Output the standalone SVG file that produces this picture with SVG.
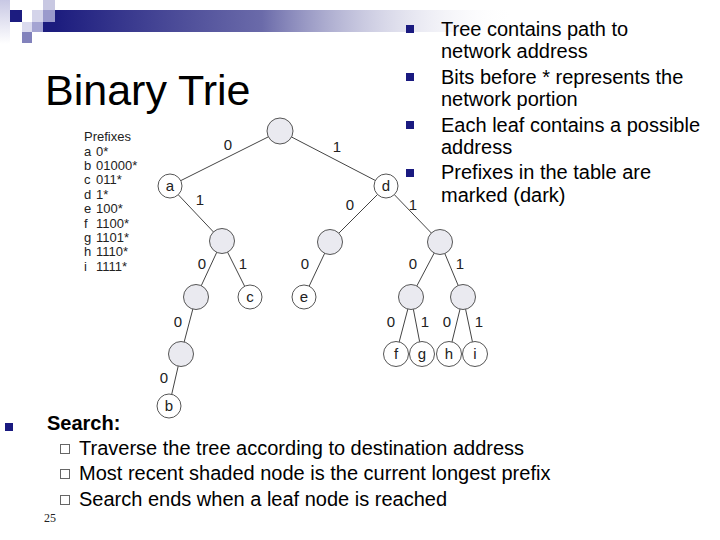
<svg xmlns="http://www.w3.org/2000/svg" width="720" height="540" viewBox="0 0 720 540">
<defs>
<linearGradient id="bar" x1="0" y1="0" x2="1" y2="0">
<stop offset="0" stop-color="#1c1c7e"/>
<stop offset="0.45" stop-color="#5a5aa0" stop-opacity="0.9"/>
<stop offset="1" stop-color="#ffffff" stop-opacity="0"/>
</linearGradient>
<linearGradient id="strip" x1="0" y1="0" x2="0" y2="1">
<stop offset="0" stop-color="#c8c8e4"/>
<stop offset="1" stop-color="#ffffff"/>
</linearGradient>
<style>
.t{font-family:"Liberation Sans",Arial,sans-serif;fill:#000}
.big{font-size:20px}
.sm{font-family:"Liberation Sans",Arial,sans-serif;font-size:13px;fill:#222}
.lbl{font-family:"Liberation Sans",Arial,sans-serif;font-size:15px;fill:#222;text-anchor:middle}
.g{fill:#eaeaf0;stroke:#555;stroke-width:1}
.w{fill:#fff;stroke:#555;stroke-width:1}
.edge{stroke:#444;stroke-width:1;fill:none}
.nb{fill:#1a1a80}
.hb{fill:#fff;stroke:#666;stroke-width:1}
</style>
</defs>
<rect width="720" height="540" fill="#fff"/>
<g id="decor">
<rect x="55" y="10" width="460" height="22" fill="url(#bar)"/>
<rect x="43" y="22" width="12" height="10" fill="#1c1c7e"/>
<rect x="0" y="0" width="10" height="44" fill="url(#strip)"/>
<rect x="10" y="10" width="12" height="12" fill="#1c1c80"/>
<rect x="32" y="10" width="11" height="12" fill="#d4d4ea"/>
<rect x="43" y="0" width="12" height="10" fill="#c8c8e2"/>
<rect x="43" y="10" width="12" height="12" fill="#9a9acc"/>
<rect x="22" y="22" width="10" height="10" fill="#dadaee"/>
<rect x="32" y="22" width="11" height="10" fill="#a4a4d2"/>
<rect x="22" y="32" width="10" height="11" fill="#8282bc"/>
</g>
<text class="t" x="45" y="105" font-size="43">Binary Trie</text>
<g id="bullets-right">
<rect class="nb" x="406" y="25" width="8" height="8"/>
<rect class="nb" x="406" y="73" width="8" height="8"/>
<rect class="nb" x="406" y="121" width="8" height="8"/>
<rect class="nb" x="406" y="169" width="8" height="8"/>
<text class="t big" x="441" y="36">Tree contains path to</text>
<text class="t big" x="441" y="58">network address</text>
<text class="t big" x="441" y="84">Bits before * represents the</text>
<text class="t big" x="441" y="106">network portion</text>
<text class="t big" x="441" y="132">Each leaf contains a possible</text>
<text class="t big" x="441" y="154">address</text>
<text class="t big" x="441" y="179">Prefixes in the table are</text>
<text class="t big" x="441" y="202">marked (dark)</text>
</g>
<g id="prefix-table">
<text class="sm" x="84" y="141">Prefixes</text>
<text class="sm" y="156"><tspan x="84">a</tspan><tspan x="96">0*</tspan></text>
<text class="sm" y="170"><tspan x="84">b</tspan><tspan x="96">01000*</tspan></text>
<text class="sm" y="184"><tspan x="84">c</tspan><tspan x="96">011*</tspan></text>
<text class="sm" y="199"><tspan x="84">d</tspan><tspan x="96">1*</tspan></text>
<text class="sm" y="213"><tspan x="84">e</tspan><tspan x="96">100*</tspan></text>
<text class="sm" y="228"><tspan x="84">f</tspan><tspan x="96">1100*</tspan></text>
<text class="sm" y="242"><tspan x="84">g</tspan><tspan x="96">1101*</tspan></text>
<text class="sm" y="256"><tspan x="84">h</tspan><tspan x="96">1110*</tspan></text>
<text class="sm" y="271"><tspan x="84">i</tspan><tspan x="96">1111*</tspan></text>
</g>
<g id="connectors">
<line class="edge" x1="280" y1="131" x2="170" y2="186"/>
<line class="edge" x1="280" y1="131" x2="386" y2="186"/>
<line class="edge" x1="170" y1="186" x2="222" y2="241"/>
<line class="edge" x1="386" y1="186" x2="330" y2="242"/>
<line class="edge" x1="386" y1="186" x2="440" y2="242"/>
<line class="edge" x1="222" y1="241" x2="196" y2="297"/>
<line class="edge" x1="222" y1="241" x2="250" y2="297"/>
<line class="edge" x1="330" y1="242" x2="304" y2="297"/>
<line class="edge" x1="440" y1="242" x2="411" y2="297"/>
<line class="edge" x1="440" y1="242" x2="463" y2="297"/>
<line class="edge" x1="196" y1="297" x2="181" y2="354"/>
<line class="edge" x1="181" y1="354" x2="169" y2="406"/>
<line class="edge" x1="411" y1="297" x2="396" y2="354"/>
<line class="edge" x1="411" y1="297" x2="422" y2="354"/>
<line class="edge" x1="463" y1="297" x2="449" y2="354"/>
<line class="edge" x1="463" y1="297" x2="475" y2="354"/>
<text class="lbl" x="228" y="150">0</text>
<text class="lbl" x="337" y="152">1</text>
<text class="lbl" x="200" y="205">1</text>
<text class="lbl" x="350" y="210">0</text>
<text class="lbl" x="413" y="210">1</text>
<text class="lbl" x="202" y="269">0</text>
<text class="lbl" x="243" y="269">1</text>
<text class="lbl" x="305" y="269">0</text>
<text class="lbl" x="413" y="269">0</text>
<text class="lbl" x="460" y="269">1</text>
<text class="lbl" x="178" y="327">0</text>
<text class="lbl" x="391" y="327">0</text>
<text class="lbl" x="425" y="327">1</text>
<text class="lbl" x="447" y="327">0</text>
<text class="lbl" x="479" y="327">1</text>
<text class="lbl" x="164" y="383">0</text>
</g>
<g id="root"><circle class="g" cx="280" cy="131" r="13"/></g>
<g id="node-a"><circle class="w" cx="170" cy="186" r="12"/><text class="lbl" x="170" y="191">a</text></g>
<g id="node-d"><circle class="w" cx="386" cy="186" r="12"/><text class="lbl" x="386" y="191">d</text></g>
<g id="node-01"><circle class="g" cx="222" cy="241" r="12.5"/></g>
<g id="node-10"><circle class="g" cx="330" cy="242" r="12.5"/></g>
<g id="node-11"><circle class="g" cx="440" cy="242" r="12.5"/></g>
<g id="node-010"><circle class="g" cx="196" cy="297" r="12.5"/></g>
<g id="node-c"><circle class="w" cx="250" cy="297" r="12"/><text class="lbl" x="250" y="302">c</text></g>
<g id="node-e"><circle class="w" cx="304" cy="297" r="12"/><text class="lbl" x="304" y="302">e</text></g>
<g id="node-110"><circle class="g" cx="411" cy="297" r="12.5"/></g>
<g id="node-111"><circle class="g" cx="463" cy="297" r="12.5"/></g>
<g id="node-0100"><circle class="g" cx="181" cy="354" r="12.5"/></g>
<g id="node-b"><circle class="w" cx="169" cy="406" r="12"/><text class="lbl" x="169" y="411">b</text></g>
<g id="node-f"><circle class="w" cx="396" cy="354" r="12.5"/><text class="lbl" x="396" y="359">f</text></g>
<g id="node-g"><circle class="w" cx="422" cy="354" r="12.5"/><text class="lbl" x="422" y="359">g</text></g>
<g id="node-h"><circle class="w" cx="449" cy="354" r="12.5"/><text class="lbl" x="449" y="359">h</text></g>
<g id="node-i"><circle class="w" cx="475" cy="354" r="12.5"/><text class="lbl" x="475" y="359">i</text></g>
<g id="search">
<rect class="nb" x="5" y="423" width="8" height="8"/>
<text class="t big" x="47" y="430" font-weight="bold">Search:</text>
<rect class="hb" x="60.5" y="444.5" width="9" height="9"/>
<rect class="hb" x="60.5" y="469.5" width="9" height="9"/>
<rect class="hb" x="60.5" y="495.5" width="9" height="9"/>
<text class="t big" x="79" y="455">Traverse the tree according to destination address</text>
<text class="t big" x="79" y="480">Most recent shaded node is the current longest prefix</text>
<text class="t big" x="79" y="506">Search ends when a leaf node is reached</text>
<text x="44" y="522" font-family="Liberation Serif, serif" font-size="12" fill="#222">25</text>
</g>
</svg>
